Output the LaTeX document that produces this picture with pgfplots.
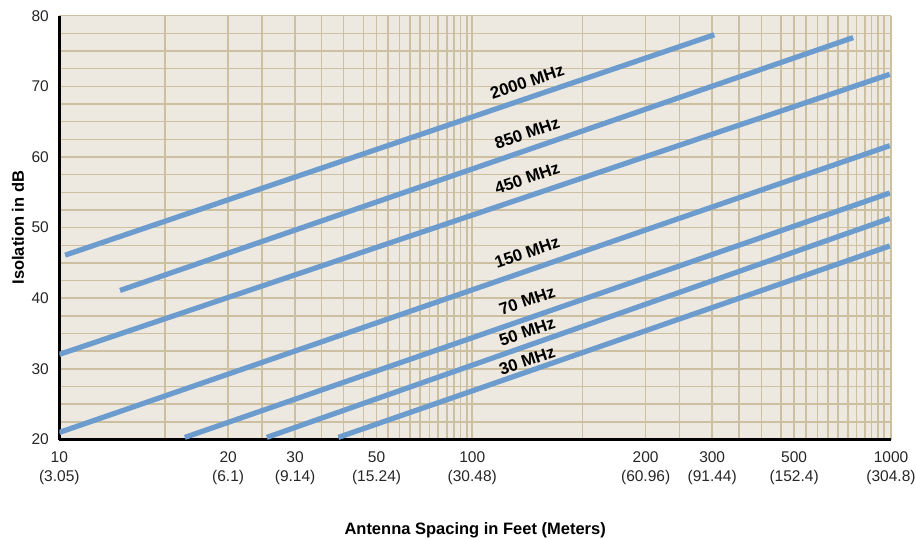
\documentclass[border=0pt]{standalone}
\usepackage{fontspec}
\setmainfont{Liberation Sans}
\usepackage{pgfplots}
\pgfplotsset{compat=1.18}
\definecolor{bgc}{RGB}{237,232,224}
\definecolor{gridc}{RGB}{204,192,160}
\definecolor{linec}{RGB}{108,155,206}
\begin{document}
\begin{tikzpicture}
\path[use as bounding box] (-59.3bp,-99.5bp) rectangle (856.7bp,439.5bp);
\begin{axis}[
 at={(0,0)}, anchor=south west,
 scale only axis, width=831.7bp, height=423.8bp,
 xmin=1, xmax=3, ymin=20, ymax=80,
 axis x line*=bottom, axis y line*=left,
 axis line style={-, black, line width=2.8bp},
 axis background/.style={fill=bgc},
 xtick={1,1.406,1.567,1.763,1.993,2.410,2.570,2.767,3},
 xticklabels={{10\\(3.05)},{20\\(6.1)},{30\\(9.14)},{50\\(15.24)},{100\\(30.48)},{200\\(60.96)},{300\\(91.44)},{500\\(152.4)},{1000\\(304.8)}},
 minor xtick={1.254,1.487,1.631,1.683,1.731,1.791,1.818,1.843,1.867,1.890,1.911,1.932,1.949,1.965,1.980,
   2.258,2.491,2.634,2.689,2.735,2.796,2.823,2.848,2.873,2.896,2.917,2.937,2.953,2.969,2.983},
 ytick={20,30,40,50,60,70,80}, yticklabels={20,30,40,50,60,70,80},
 minor ytick={22.5,25,27.5,32.5,35,37.5,42.5,45,47.5,52.5,55,57.5,62.5,65,67.5,72.5,75,77.5},
 grid=both,
 major grid style={gridc, line width=1.5bp},
 minor grid style={gridc, line width=1.5bp},
 major tick length=0pt, minor tick length=0pt,
 ticklabel style={font=\fontsize{15.5bp}{18.5bp}\selectfont, text=black!85},
 xticklabel style={align=center, yshift=-9bp},
 yticklabel style={xshift=-7bp},
 xlabel={Antenna Spacing in Feet (Meters)},
 ylabel={Isolation in dB},
 label style={font=\bfseries\fontsize{16.5bp}{20bp}\selectfont},
 xlabel style={at={(axis description cs:0.5,-0.2135)}, anchor=center},
 ylabel style={at={(axis description cs:-0.0497,0.5)}, anchor=center},
]
\addplot[linec, line width=5.2bp] coordinates {(1.014,46.1) (2.575,77.3)};
\addplot[linec, line width=5.2bp] coordinates {(1.146,41.1) (2.909,76.9)};
\addplot[linec, line width=5.2bp] coordinates {(1.0,32.05) (2.997,71.7)};
\addplot[linec, line width=5.2bp] coordinates {(1.0,21.0) (2.997,61.6)};
\addplot[linec, line width=5.2bp] coordinates {(1.302,20.3) (2.997,54.9)};
\addplot[linec, line width=5.2bp] coordinates {(1.499,20.3) (2.997,51.3)};
\addplot[linec, line width=5.2bp] coordinates {(1.671,20.3) (2.997,47.4)};
\begin{scope}[every node/.style={rotate=18.76, inner sep=0pt, font=\bfseries\fontsize{16.8bp}{16.8bp}\selectfont}]
\node at (axis cs:2.125,70.6) {2000 MHz};
\node at (axis cs:2.125,63.4) {850 MHz};
\node at (axis cs:2.125,57.0) {450 MHz};
\node at (axis cs:2.125,46.5) {150 MHz};
\node at (axis cs:2.125,39.7) {70 MHz};
\node at (axis cs:2.125,35.3) {50 MHz};
\node at (axis cs:2.125,31.2) {30 MHz};
\end{scope}
\end{axis}
\end{tikzpicture}
\end{document}
